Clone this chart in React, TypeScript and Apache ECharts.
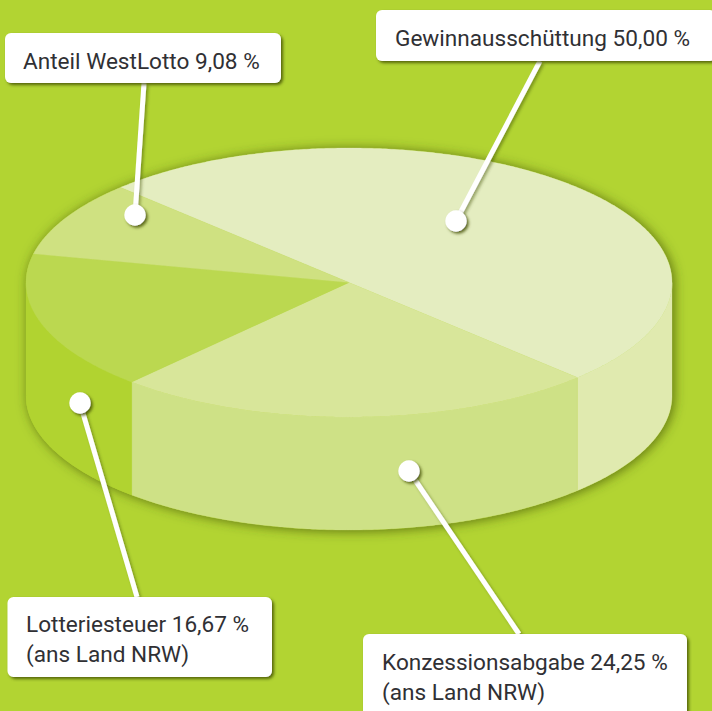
import React, { useEffect, useRef } from "react";
import * as echarts from "echarts";

// ---- data ----
const categories = ["Gewinnausschüttung", "Konzessionsabgabe", "Lotteriesteuer", "Anteil WestLotto"];
const shares = [50.0, 24.25, 16.67, 9.08];
const labelTexts = [
  "Gewinnausschüttung 50,00 %",
  "Konzessionsabgabe 24,25 %\n(ans Land NRW)",
  "Lotteriesteuer 16,67 %\n(ans Land NRW)",
  "Anteil WestLotto 9,08 %",
];

// ---- styles / layout ----
const BG = "#B2D432";
const topColors = ["#E4EDC0", "#D8E69A", "#BBD850", "#CFE181"];
const sideColors = ["#E0EAAF", "#CEE186", "#B1D330", "#CFE181"];
const W = 712;
const H = 711;
const DISK = { cx: 349, cy: 282.5, rx: 323, ry: 134.5, depth: 113, startDeg: 225 };
const TEXT = "#303034";
const FONT = "Roboto";
const FS = 22.6;

const callouts = [
  { box: [376, 10, 340, 51], text: [395, 38], from: [540, 61], dot: [456, 221] },
  { box: [363, 634, 324, 90], text: [382, 662], from: [519, 634], dot: [409, 471] },
  { box: [7.5, 597, 264.5, 80], text: [26, 624], from: [137, 597], dot: [80, 403] },
  { box: [5, 33, 276, 50], text: [23, 61], from: [144, 83], dot: [135, 215] },
];

const total = shares.reduce((a, b) => a + b, 0);
const rad = (d: number) => (d * Math.PI) / 180;

function sliceAngles(i: number) {
  let s = DISK.startDeg;
  for (let k = 0; k < i; k++) s += (shares[k] / total) * 360;
  return [s, s + (shares[i] / total) * 360];
}
function rimPoint(deg: number, dy = 0): number[] {
  return [DISK.cx + DISK.rx * Math.cos(rad(deg)), DISK.cy + DISK.ry * Math.sin(rad(deg)) + dy];
}
function arc(a: number, b: number, dy = 0): number[][] {
  const pts: number[][] = [];
  const n = Math.max(2, Math.ceil(Math.abs(b - a) * 2));
  for (let i = 0; i <= n; i++) pts.push(rimPoint(a + ((b - a) * i) / n, dy));
  return pts;
}
// visible (front) part of the rim lies between 0 and 180 degrees (mod 360)
function visibleRange(a: number, b: number): number[] | null {
  for (const off of [0, 360]) {
    const s = Math.max(a, off);
    const e = Math.min(b, off + 180);
    if (e > s) return [s, e];
  }
  return null;
}

export default function App() {
  const ref = useRef<HTMLDivElement>(null);
  useEffect(() => {
    document.body.style.margin = "0";
    document.body.style.background = BG;
    const chart = echarts.init(ref.current!, null, { renderer: "svg", width: W, height: H });
    const shadowBase = { shadowColor: "rgba(60,75,0,0.8)", shadowBlur: 3, shadowOffsetX: 2, shadowOffsetY: 2 };

    const graphicElements: any[] = [];
    callouts.forEach((c) => {
      graphicElements.push({
        type: "line", z: 10,
        shape: { x1: c.from[0], y1: c.from[1], x2: c.dot[0], y2: c.dot[1] },
        style: { stroke: "#fff", lineWidth: 5, ...shadowBase, shadowColor: "rgba(60,75,0,0.45)" },
      });
      graphicElements.push({
        type: "circle", z: 11,
        shape: { cx: c.dot[0], cy: c.dot[1], r: 10.7 },
        style: { fill: "#fff", ...shadowBase },
      });
    });
    callouts.forEach((c, i) => {
      graphicElements.push({
        type: "rect", z: 12,
        shape: { x: c.box[0], y: c.box[1], width: c.box[2], height: c.box[3], r: 6 },
        style: { fill: "#fff", ...shadowBase },
      });
      labelTexts[i].split("\n").forEach((line, j) => {
        graphicElements.push({
          type: "text", z: 13,
          x: c.text[0], y: c.text[1] + j * 30,
          style: { text: line, fill: TEXT, font: `400 ${FS}px ${FONT}`, textVerticalAlign: "middle", verticalAlign: "middle" },
        });
      });
    });

    chart.setOption({
      animation: false,
      backgroundColor: BG,
      grid: { left: 0, right: 0, top: 0, bottom: 0 },
      xAxis: { type: "value", min: 0, max: W, show: false },
      yAxis: { type: "value", min: 0, max: H, inverse: true, show: false },
      tooltip: { show: false },
      series: [
        {
          name: "Silhouette",
          type: "custom",
          coordinateSystem: "cartesian2d",
          silent: true,
          clip: false,
          z: 1,
          data: [[total, 0]],
          renderItem: (_p: any, api: any) => {
            const pts = [...arc(180, 360), ...arc(0, 180, DISK.depth)].map((q) => api.coord(q));
            return {
              type: "polygon",
              shape: { points: pts },
              style: { fill: sideColors[2], shadowColor: "rgba(55,70,0,0.7)", shadowBlur: 12, shadowOffsetX: 2, shadowOffsetY: 1 },
            };
          },
        },
        {
          name: "Seiten",
          type: "custom",
          coordinateSystem: "cartesian2d",
          silent: true,
          clip: false,
          z: 2,
          data: shares.map((v, i) => [v, i]),
          renderItem: (_p: any, api: any) => {
            const i = api.value(1);
            const [a, b] = sliceAngles(i);
            const vis = visibleRange(a, b);
            if (!vis) return { type: "group", children: [] };
            const pts = [...arc(vis[0], vis[1]), ...arc(vis[1], vis[0], DISK.depth)].map((q) => api.coord(q));
            return {
              type: "polygon",
              shape: { points: pts },
              style: { fill: sideColors[i], stroke: sideColors[i], lineWidth: 0.3 },
            };
          },
        },
        {
          name: "Anteile",
          type: "custom",
          coordinateSystem: "cartesian2d",
          silent: true,
          clip: false,
          z: 3,
          data: shares.map((v, i) => [v, i]),
          renderItem: (_p: any, api: any) => {
            const i = api.value(1);
            const [a, b] = sliceAngles(i);
            const pts = [[DISK.cx, DISK.cy], ...arc(a, b)].map((q) => api.coord(q));
            return {
              type: "polygon",
              shape: { points: pts },
              style: { fill: topColors[i], stroke: topColors[i], lineWidth: 0.3 },
            };
          },
        },
      ],
      graphic: { elements: graphicElements },
    });
    return () => chart.dispose();
  }, []);
  return <div ref={ref} aria-label={categories.join(", ")} style={{ width: W, height: H }} />;
}
